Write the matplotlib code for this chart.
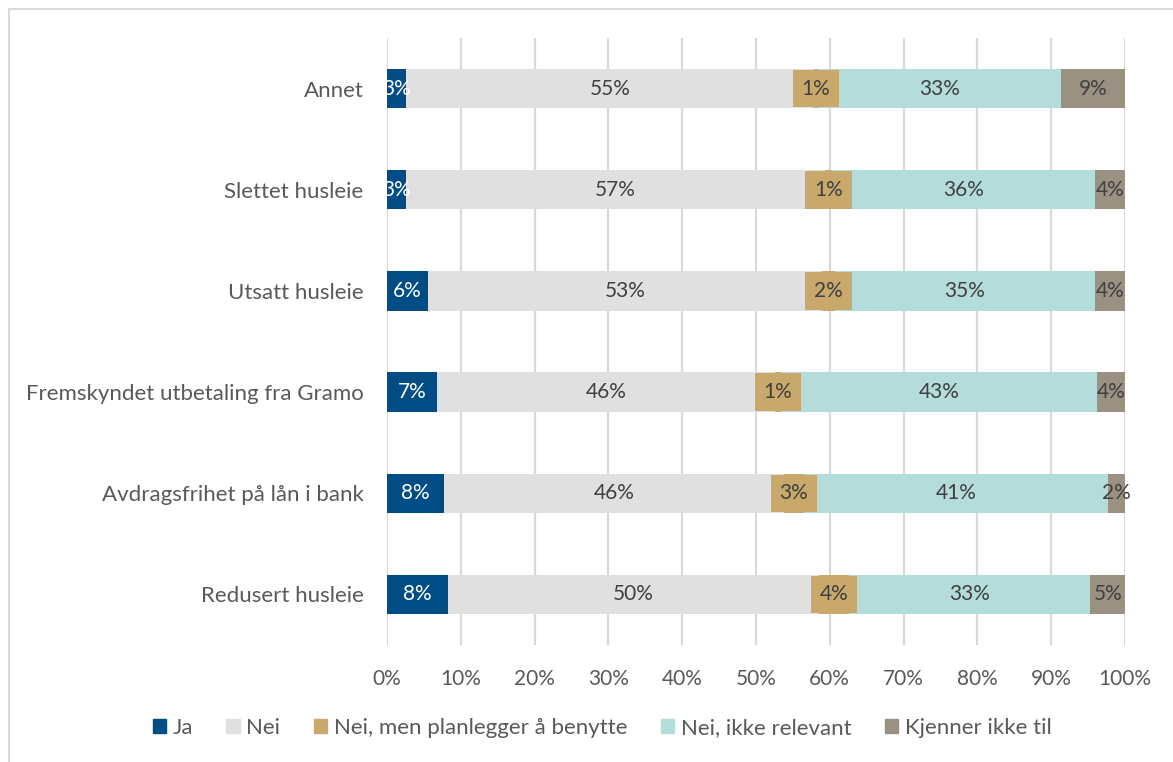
import matplotlib.pyplot as plt
import numpy as np
from matplotlib.lines import Line2D

plt.rcParams['font.family'] = ['Lato', 'DejaVu Sans']

categories = ["Annet", "Slettet husleie", "Utsatt husleie",
              "Fremskyndet utbetaling fra Gramo", "Avdragsfrihet på lån i bank",
              "Redusert husleie"]
series = ["Ja", "Nei", "Nei, men planlegger å benytte", "Nei, ikke relevant", "Kjenner ikke til"]
ja = [2.6, 2.6, 5.6, 6.8, 7.7, 8.3]
nei = [55.2, 56.8, 53.4, 45.8, 46.2, 50.3]
planlegger = [0.6, 1.0, 1.8, 0.8, 2.6, 4.1]
ikke_relevant = [32.9, 35.6, 35.2, 42.8, 41.3, 32.7]
kjenner_ikke = [8.7, 4.1, 4.1, 3.8, 2.3, 4.7]

colors = ["#004C84", "#E0E0E0", "#C8A86B", "#B3DCDA", "#9B9183"]
text_colors = ["white", "#404040", "#404040", "#404040", "#404040"]

data = np.array([ja, nei, planlegger, ikke_relevant, kjenner_ikke])
share = data / data.sum(axis=0) * 100

fig = plt.figure(figsize=(11.73, 7.62), dpi=100)
ax = fig.add_axes([387 / 1173, 1 - 645 / 762, (1125 - 387) / 1173, (645 - 38) / 762])

y = np.arange(len(categories))[::-1]
left = np.zeros(len(categories))
for i, name in enumerate(series):
    ax.barh(y, share[i], left=left, height=0.39, color=colors[i], label=name, zorder=2)
    for j in range(len(categories)):
        cx = left[j] + share[i][j] / 2
        txt = f"{data[i][j]:.0f}%"
        if i == 2:
            # small segment: label sits on a box in the segment colour
            ax.text(cx, y[j], txt, ha="center", va="center", fontsize=15, color=text_colors[i],
                    zorder=4, bbox=dict(boxstyle="square,pad=0.42", fc=colors[i], ec="none"))
        else:
            ax.text(cx, y[j], txt, ha="center", va="center", fontsize=15, color=text_colors[i], zorder=3)
    left += share[i]

ax.set_xlim(0, 100)
ax.set_ylim(-0.5, len(categories) - 0.5)
ax.set_xticks(np.arange(0, 101, 10))
ax.set_xticklabels([f"{t}%" for t in range(0, 101, 10)], fontsize=15, color="#595959")
ax.set_yticks(y)
ax.set_yticklabels(categories, fontsize=16, color="#595959")
ax.tick_params(length=0, pad=17, axis="y")
ax.tick_params(length=0, pad=17, axis="x")
ax.grid(axis="x", color="#D9D9D9", linewidth=1.6, zorder=0)
ax.set_axisbelow(True)
for s in ax.spines.values():
    s.set_visible(False)

handles = [plt.Rectangle((0, 0), 1, 1, color=c) for c in colors]
fig.legend(handles, series, loc="center", bbox_to_anchor=(602 / 1173, 1 - 728 / 762), ncol=5,
           frameon=False, fontsize=16, labelcolor="#595959", handlelength=0.6, handleheight=0.6,
           handletextpad=0.3, columnspacing=1.5)

# chart frame along top and left
fig.add_artist(Line2D([9 / 1173, 1], [1 - 9 / 762, 1 - 9 / 762], color="#D9D9D9", linewidth=1.5))
fig.add_artist(Line2D([9 / 1173, 9 / 1173], [0, 1 - 9 / 762], color="#D9D9D9", linewidth=1.5))

fig.savefig("out.png", dpi=100)
